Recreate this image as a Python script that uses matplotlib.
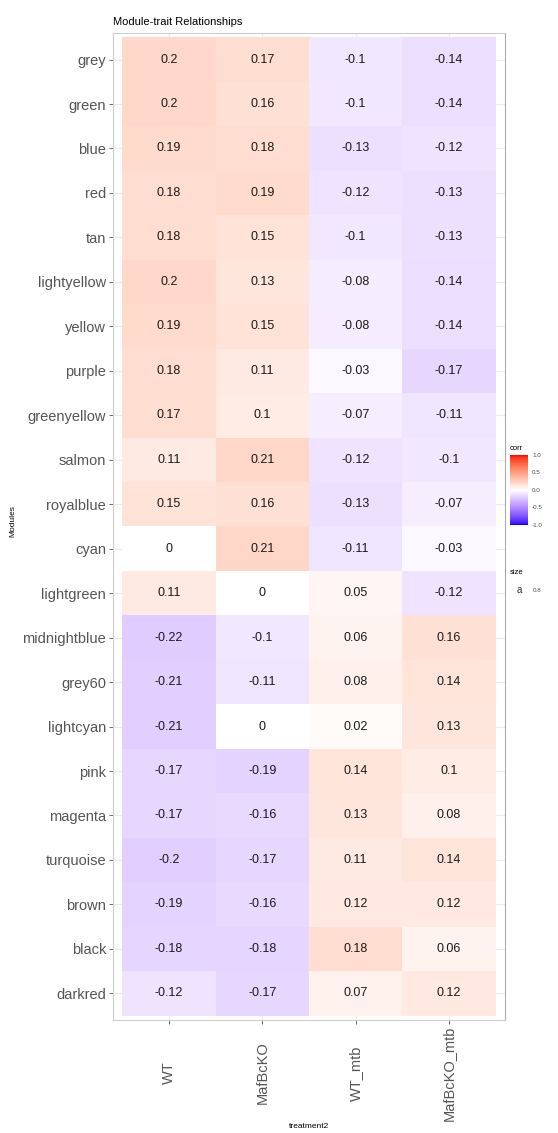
import numpy as np
import matplotlib.pyplot as plt
from matplotlib.colors import ListedColormap, Normalize
import matplotlib as mpl

plt.rcParams['font.family'] = ['Liberation Sans', 'DejaVu Sans']

## Data
modules = ['grey', 'green', 'blue', 'red', 'tan', 'lightyellow', 'yellow', 'purple',
           'greenyellow', 'salmon', 'royalblue', 'cyan', 'lightgreen', 'midnightblue',
           'grey60', 'lightcyan', 'pink', 'magenta', 'turquoise', 'brown', 'black', 'darkred']
treatments = ['WT', 'MafBcKO', 'WT_mtb', 'MafBcKO_mtb']

wt = [0.2, 0.2, 0.19, 0.18, 0.18, 0.2, 0.19, 0.18, 0.17, 0.11, 0.15, 0, 0.11,
      -0.22, -0.21, -0.21, -0.17, -0.17, -0.2, -0.19, -0.18, -0.12]
mafbcko = [0.17, 0.16, 0.18, 0.19, 0.15, 0.13, 0.15, 0.11, 0.1, 0.21, 0.16, 0.21, 0,
           -0.1, -0.11, 0, -0.19, -0.16, -0.17, -0.16, -0.18, -0.17]
wt_mtb = [-0.1, -0.1, -0.13, -0.12, -0.1, -0.08, -0.08, -0.03, -0.07, -0.12, -0.13, -0.11, 0.05,
          0.06, 0.08, 0.02, 0.14, 0.13, 0.11, 0.12, 0.18, 0.07]
mafbcko_mtb = [-0.14, -0.14, -0.12, -0.13, -0.13, -0.14, -0.14, -0.17, -0.11, -0.1, -0.07, -0.03, -0.12,
               0.16, 0.14, 0.13, 0.1, 0.08, 0.14, 0.12, 0.06, 0.12]

corr = np.column_stack((wt, mafbcko, wt_mtb, mafbcko_mtb))
nrow, ncol = corr.shape


## Lab interpolated diverging scale (like ggplot's gradient2)
def srgb_to_lab(rgb):
    rgb = np.asarray(rgb, float)
    lin = np.where(rgb <= 0.04045, rgb / 12.92, ((rgb + 0.055) / 1.055) ** 2.4)
    M = np.array([[0.4124, 0.3576, 0.1805],
                  [0.2126, 0.7152, 0.0722],
                  [0.0193, 0.1192, 0.9505]])
    xyz = M @ lin / np.array([0.95047, 1.0, 1.08883])
    f = np.where(xyz > 0.008856, np.cbrt(xyz), 7.787 * xyz + 16 / 116)
    return np.array([116 * f[1] - 16, 500 * (f[0] - f[1]), 200 * (f[1] - f[2])])


def lab_to_srgb(lab):
    L, a, b = lab
    fy = (L + 16) / 116
    fx = fy + a / 500
    fz = fy - b / 200
    f = np.array([fx, fy, fz])
    xyz = np.where(f ** 3 > 0.008856, f ** 3, (f - 16 / 116) / 7.787) * np.array([0.95047, 1.0, 1.08883])
    Minv = np.linalg.inv(np.array([[0.4124, 0.3576, 0.1805],
                                   [0.2126, 0.7152, 0.0722],
                                   [0.0193, 0.1192, 0.9505]]))
    lin = Minv @ xyz
    rgb = np.where(lin <= 0.0031308, 12.92 * lin, 1.055 * np.clip(lin, 0, None) ** (1 / 2.4) - 0.055)
    return np.clip(rgb, 0, 1)


lab_lo = srgb_to_lab([0, 0, 1])
lab_mid = srgb_to_lab([1, 1, 1])
lab_hi = srgb_to_lab([1, 0, 0])
cols = []
for t in np.linspace(-1, 1, 257):
    if t < 0:
        lab = lab_mid + (lab_lo - lab_mid) * (-t)
    else:
        lab = lab_mid + (lab_hi - lab_mid) * t
    cols.append(lab_to_srgb(lab))
cmap = ListedColormap(cols)
norm = Normalize(-1, 1)

fig = plt.figure(figsize=(5.58, 11.33), dpi=100)
ax = fig.add_axes([0.2025, 0.0997, 0.7025, 0.8713])

# grid lines below tiles
for i in range(ncol):
    ax.axvline(i, color='#ebebeb', lw=0.8, zorder=0)
for j in range(nrow):
    ax.axhline(j, color='#ebebeb', lw=0.8, zorder=0)

# row 0 at top
ypos = np.arange(nrow)[::-1]
ax.pcolormesh(np.arange(ncol + 1) - 0.5, np.arange(nrow + 1) - 0.5,
              corr[::-1], cmap=cmap, norm=norm, zorder=1)

for j in range(nrow):
    for i in range(ncol):
        v = corr[j, i]
        ax.text(i, ypos[j], '{:g}'.format(v), ha='center', va='center',
                fontsize=9, color='#1a1a1a', zorder=2)

ax.set_xlim(-0.6, ncol - 0.4)
ax.set_ylim(-0.6, nrow - 0.4)
ax.set_xticks(range(ncol))
ax.set_xticklabels(treatments, rotation=90, fontsize=10.5, color='#555555',
                   va='center', ha='center')
ax.tick_params(axis='x', pad=35)
ax.set_yticks(ypos)
ax.set_yticklabels(modules, fontsize=10.5, color='#555555')
ax.tick_params(length=3, color='#555555', width=0.6)
ax.tick_params(axis='y', pad=2)
for s in ax.spines.values():
    s.set_color('#cccccc')
    s.set_linewidth(0.8)
ax.spines['right'].set_color('#aaaaaa')

ax.set_title('Module-trait Relationships', fontsize=8, loc='left', pad=6)
fig.text(309 / 558, 1 - 1126 / 1133, 'treatment2', fontsize=6, ha='center', va='center')
fig.text(13 / 558, 1 - 521 / 1133, 'Modules', fontsize=6, ha='center', va='center', rotation=90)

# legend
cax = fig.add_axes([0.914, 1 - 525 / 1133, 0.032, 70 / 1133])
cb = mpl.colorbar.ColorbarBase(cax, cmap=cmap, norm=norm, ticks=[-1, -0.5, 0, 0.5, 1])
cb.ax.set_yticklabels(['-1.0', '-0.5', '0.0', '0.5', '1.0'], fontsize=4.5, color='#4d4d4d')
cb.outline.set_visible(False)
cb.ax.tick_params(length=2, width=0.4, color='white', pad=1)
fig.text(0.914, 1 - 448 / 1133, 'corr', fontsize=5.5, va='center')
fig.text(0.914, 1 - 573 / 1133, 'size', fontsize=5.5, va='center')
fig.text(0.925, 1 - 590 / 1133, 'a', fontsize=7, va='center', color='#333333')
fig.text(0.955, 1 - 590 / 1133, '0.8', fontsize=4.5, va='center', color='#4d4d4d')

plt.savefig('out.png', dpi=100)
